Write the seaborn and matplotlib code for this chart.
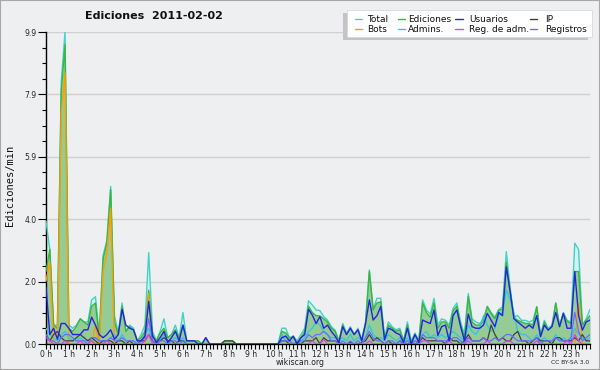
import numpy as np
import pandas as pd
import matplotlib
matplotlib.use("Agg")
import matplotlib.pyplot as plt
import seaborn as sns
from matplotlib.patches import Rectangle
from matplotlib.lines import Line2D
from matplotlib.ticker import MultipleLocator, FixedLocator

# ---------------- data (10-minute bins, 144 per day) ----------------
hour_labels = [f"{h} h" for h in range(24)]
ytick_values = [0, 1.98, 3.96, 5.94, 7.92, 9.9]
ytick_labels = ["0.0", "2.0", "4.0", "5.9", "7.9", "9.9"]

total = [
    3.9, 3.0, 0.6, 0.6, 8.3, 9.9,
    0.6, 0.5, 0.6, 0.8, 0.7, 0.7,
    1.4, 1.5, 0.3, 2.8, 3.3, 5.0,
    0.9, 0.35, 1.3, 0.4, 0.6, 0.5,
    0.1, 0.3, 0.6, 2.9, 0.4, 0.1,
    0.4, 0.8, 0.2, 0.3, 0.6, 0.2,
    1.0, 0.1, 0.1, 0.1, 0.1, 0.0,
    0.2, 0.0, 0.0, 0.0, 0.0, 0.1,
    0.1, 0.1, 0.0, 0.0, 0.0, 0.0,
    0.0, 0.0, 0.0, 0.0, 0.0, 0.0,
    0.0, 0.0, 0.5, 0.5, 0.2, 0.25,
    0.1, 0.3, 0.5, 1.37, 1.24, 1.08,
    1.06, 0.87, 0.76, 0.55, 0.44, 0.1,
    0.65, 0.35, 0.55, 0.3, 0.5, 0.15,
    0.7, 2.35, 1.1, 1.45, 1.45, 0.2,
    0.7, 0.55, 0.45, 0.5, 0.1, 0.7,
    0.1, 0.35, 0.1, 1.4, 1.08, 0.95,
    1.45, 0.6, 0.8, 0.75, 0.6, 1.13,
    1.3, 0.7, 0.3, 1.6, 0.8, 0.7,
    0.65, 0.8, 1.2, 1.0, 0.85, 1.1,
    1.18, 2.93, 1.8, 0.87, 0.9, 0.75,
    0.75, 0.7, 0.75, 1.18, 0.3, 0.75,
    0.5, 0.6, 1.3, 0.6, 1.0, 0.75,
    0.7, 3.2, 3.0, 0.6, 0.8, 1.1,
]
ediciones = [
    2.3, 3.0, 0.6, 0.5, 8.0, 9.5,
    0.5, 0.4, 0.55, 0.8, 0.7, 0.6,
    1.2, 1.3, 0.2, 2.7, 3.2, 4.9,
    0.7, 0.3, 1.2, 0.4, 0.55, 0.45,
    0.1, 0.2, 0.4, 1.7, 0.3, 0.1,
    0.35, 0.5, 0.2, 0.3, 0.45, 0.2,
    0.6, 0.1, 0.1, 0.1, 0.1, 0.0,
    0.2, 0.0, 0.0, 0.0, 0.0, 0.1,
    0.1, 0.1, 0.0, 0.0, 0.0, 0.0,
    0.0, 0.0, 0.0, 0.0, 0.0, 0.0,
    0.0, 0.0, 0.4, 0.35, 0.2, 0.2,
    0.05, 0.2, 0.4, 1.2, 1.0, 0.9,
    0.89, 0.8, 0.7, 0.5, 0.4, 0.1,
    0.6, 0.3, 0.5, 0.3, 0.45, 0.1,
    0.65, 2.3, 1.08, 1.3, 1.34, 0.15,
    0.6, 0.5, 0.4, 0.45, 0.1, 0.6,
    0.05, 0.3, 0.1, 1.3, 1.0, 0.85,
    1.3, 0.5, 0.7, 0.7, 0.5, 1.05,
    1.2, 0.6, 0.2, 1.5, 0.7, 0.6,
    0.6, 0.71, 1.18, 0.97, 0.8, 1.07,
    1.1, 2.6, 1.7, 0.85, 0.75, 0.7,
    0.65, 0.65, 0.6, 1.18, 0.25, 0.7,
    0.45, 0.55, 1.3, 0.55, 0.97, 0.72,
    0.65, 2.3, 2.3, 0.6, 0.75, 0.9,
]
usuarios = [
    1.8, 0.3, 0.5, 0.15, 0.65, 0.65,
    0.5, 0.3, 0.3, 0.3, 0.45, 0.45,
    0.85, 0.6, 0.3, 0.2, 0.3, 0.45,
    0.15, 0.3, 1.1, 0.6, 0.5, 0.45,
    0.1, 0.1, 0.25, 1.35, 0.25, 0.05,
    0.2, 0.4, 0.05, 0.2, 0.4, 0.1,
    0.6, 0.1, 0.1, 0.1, 0.0, 0.0,
    0.2, 0.0, 0.0, 0.0, 0.0, 0.0,
    0.0, 0.0, 0.0, 0.0, 0.0, 0.0,
    0.0, 0.0, 0.0, 0.0, 0.0, 0.0,
    0.0, 0.0, 0.2, 0.25, 0.1, 0.25,
    0.0, 0.2, 0.3, 1.1, 0.92, 0.65,
    0.87, 0.5, 0.6, 0.4, 0.25, 0.05,
    0.55, 0.3, 0.5, 0.3, 0.45, 0.1,
    0.65, 1.4, 0.76, 0.9, 1.19, 0.13,
    0.5, 0.45, 0.35, 0.3, 0.05, 0.5,
    0.0, 0.3, 0.05, 0.76, 0.7, 0.65,
    1.08, 0.27, 0.55, 0.6, 0.1, 0.9,
    1.08, 0.55, 0.1, 0.95, 0.55, 0.5,
    0.5, 0.6, 0.97, 0.76, 0.55, 1.0,
    0.9, 2.45, 1.66, 0.8, 0.7, 0.6,
    0.5, 0.6, 0.5, 0.9, 0.23, 0.6,
    0.44, 0.55, 1.0, 0.55, 0.97, 0.5,
    0.5, 2.3, 0.9, 0.44, 0.7, 0.76,
]
ip = [
    0.3, 0.1, 0.3, 0.4, 0.2, 0.1,
    0.1, 0.1, 0.2, 0.3, 0.2, 0.1,
    0.2, 0.1, 0.0, 0.1, 0.1, 0.1,
    0.0, 0.1, 0.1, 0.0, 0.1, 0.0,
    0.0, 0.1, 0.1, 0.3, 0.1, 0.0,
    0.1, 0.2, 0.1, 0.1, 0.0, 0.1,
    0.1, 0.0, 0.0, 0.0, 0.0, 0.0,
    0.0, 0.0, 0.0, 0.0, 0.0, 0.1,
    0.1, 0.1, 0.0, 0.0, 0.0, 0.0,
    0.0, 0.0, 0.0, 0.0, 0.0, 0.0,
    0.0, 0.0, 0.1, 0.1, 0.0, 0.0,
    0.05, 0.0, 0.1, 0.1, 0.1, 0.2,
    0.0, 0.2, 0.1, 0.1, 0.1, 0.05,
    0.0, 0.0, 0.05, 0.0, 0.0, 0.05,
    0.1, 0.3, 0.1, 0.2, 0.1, 0.0,
    0.1, 0.0, 0.0, 0.1, 0.0, 0.0,
    0.05, 0.0, 0.05, 0.2, 0.1, 0.1,
    0.1, 0.1, 0.1, 0.0, 0.2, 0.1,
    0.1, 0.0, 0.1, 0.3, 0.1, 0.1,
    0.1, 0.2, 0.1, 0.6, 0.3, 0.1,
    0.2, 0.1, 0.1, 0.3, 0.4, 0.1,
    0.1, 0.0, 0.1, 0.2, 0.1, 0.1,
    0.1, 0.0, 0.2, 0.2, 0.1, 0.1,
    0.1, 0.2, 0.1, 0.3, 0.1, 0.1,
]
bots = [
    2.0, 2.6, 0.0, 0.0, 7.3, 8.6,
    0.0, 0.0, 0.0, 0.0, 0.0, 0.0,
    0.0, 0.6, 0.0, 2.3, 2.9, 4.3,
    0.0, 0.0, 0.0, 0.0, 0.0, 0.0,
    0.0, 0.0, 0.0, 1.6, 0.0, 0.0,
] + [0.0] * 108 + [
    0.0, 0.0, 1.3, 0.0, 0.0, 0.0,
]
admins = [
    0.5, 0.3, 0.2, 0.1, 0.3, 0.4,
    0.2, 0.1, 0.1, 0.2, 0.1, 0.1,
    0.1, 0.2, 0.1, 0.1, 0.1, 0.2,
    0.3, 0.1, 0.3, 0.1, 0.1, 0.1,
    0.0, 0.1, 0.3, 0.5, 0.1, 0.0,
    0.1, 0.3, 0.1, 0.1, 0.2, 0.1,
    0.2, 0.0, 0.0, 0.0, 0.0, 0.0,
    0.0, 0.0, 0.0, 0.0, 0.0, 0.0,
    0.0, 0.0, 0.0, 0.0, 0.0, 0.0,
    0.0, 0.0, 0.0, 0.0, 0.0, 0.0,
    0.0, 0.0, 0.3, 0.1, 0.1, 0.0,
    0.0, 0.1, 0.2, 0.4, 0.5, 0.7,
    0.6, 0.4, 0.3, 0.2, 0.2, 0.1,
    0.2, 0.1, 0.3, 0.1, 0.2, 0.1,
    0.2, 0.6, 0.3, 0.2, 0.2, 0.1,
    0.3, 0.2, 0.1, 0.2, 0.0, 0.2,
    0.0, 0.1, 0.0, 0.3, 0.4, 0.2,
    0.3, 0.2, 0.3, 0.2, 0.3, 0.4,
    0.3, 0.2, 0.1, 0.6, 0.4, 0.3,
    0.5, 0.9, 0.6, 0.4, 0.5, 0.9,
    1.0, 1.7, 1.4, 1.0, 0.4, 0.3,
    0.3, 0.2, 0.1, 0.3, 0.1, 0.2,
    0.1, 0.1, 0.3, 0.1, 0.2, 0.1,
    0.1, 0.5, 0.3, 0.2, 0.1, 0.2,
]
reg_adm = [
    0.2, 0.1, 0.0, 0.0, 0.0, 0.1,
    0.0, 0.0, 0.0, 0.1, 0.0, 0.0,
    0.1, 0.0, 0.0, 0.0, 0.1, 0.0,
    0.0, 0.0, 0.0, 0.0, 0.0, 0.0,
    0.0, 0.0, 0.1, 0.3, 0.0, 0.0,
    0.0, 0.0, 0.0, 0.0, 0.0, 0.0,
    0.0, 0.0, 0.0, 0.0, 0.0, 0.0,
    0.0, 0.0, 0.0, 0.0, 0.0, 0.0,
    0.0, 0.0, 0.0, 0.0, 0.0, 0.0,
    0.0, 0.0, 0.0, 0.0, 0.0, 0.0,
    0.0, 0.0, 0.0, 0.0, 0.0, 0.0,
    0.0, 0.0, 0.0, 0.0, 0.1, 0.0,
    0.0, 0.15, 0.0, 0.0, 0.0, 0.0,
    0.0, 0.0, 0.0, 0.0, 0.0, 0.0,
    0.0, 0.1, 0.0, 0.0, 0.0, 0.0,
    0.0, 0.0, 0.0, 0.0, 0.0, 0.0,
    0.0, 0.0, 0.0, 0.1, 0.1, 0.0,
    0.0, 0.0, 0.0, 0.0, 0.1, 0.0,
    0.0, 0.0, 0.0, 0.1, 0.0, 0.0,
    0.0, 0.0, 0.1, 0.0, 0.0, 0.0,
    0.0, 0.1, 0.1, 0.0, 0.0, 0.0,
    0.0, 0.0, 0.0, 0.1, 0.0, 0.0,
    0.0, 0.0, 0.0, 0.0, 0.0, 0.1,
    0.0, 0.3, 0.1, 0.0, 0.0, 0.0,
]
registros = [
    0.3, 0.1, 0.1, 0.0, 0.2, 0.3,
    0.3, 0.2, 0.1, 0.1, 0.1, 0.0,
    0.2, 0.2, 0.1, 0.1, 0.1, 0.2,
    0.1, 0.1, 0.2, 0.1, 0.1, 0.1,
    0.0, 0.1, 0.2, 0.8, 0.1, 0.0,
    0.1, 0.1, 0.0, 0.1, 0.1, 0.0,
    0.1, 0.0, 0.0, 0.0, 0.0, 0.0,
    0.0, 0.0, 0.0, 0.0, 0.0, 0.0,
    0.0, 0.0, 0.0, 0.0, 0.0, 0.0,
    0.0, 0.0, 0.0, 0.0, 0.0, 0.0,
    0.0, 0.0, 0.1, 0.1, 0.1, 0.0,
    0.0, 0.1, 0.1, 0.3, 0.2, 0.3,
    0.3, 0.4, 0.3, 0.1, 0.1, 0.0,
    0.1, 0.0, 0.1, 0.0, 0.1, 0.0,
    0.2, 0.4, 0.2, 0.1, 0.1, 0.0,
    0.1, 0.1, 0.0, 0.1, 0.0, 0.1,
    0.0, 0.1, 0.05, 0.3, 0.2, 0.2,
    0.2, 0.1, 0.1, 0.1, 0.1, 0.2,
    0.2, 0.1, 0.0, 0.2, 0.1, 0.1,
    0.1, 0.2, 0.1, 0.1, 0.2, 0.1,
    0.2, 0.3, 0.3, 0.2, 0.1, 0.1,
    0.1, 0.1, 0.1, 0.2, 0.0, 0.1,
    0.1, 0.1, 0.2, 0.1, 0.1, 0.1,
    0.2, 1.0, 0.4, 0.1, 0.2, 0.3,
]

# ---------------- styling ----------------
BG = "#eeeff0"
C_TOTAL = "#3fd3c6"
C_TOTAL_FILL = "#d3f2ee"
C_ED = "#3db43d"
C_ED_FILL = "#95cb95"
C_USR = "#2424e0"
C_IP = "#404040"
C_BOTS = "#ff9c00"
C_ADM = "#2ec6e6"
C_REGADM = "#e03ef0"
C_REG = "#6b6bff"

sns.set_theme(style="white")
plt.rcParams["font.family"] = ["DejaVu Sans"]

W, H = 600, 370
fig = plt.figure(figsize=(W / 100, H / 100), dpi=100, facecolor=BG)

L, R, T, B = 46, 590, 32, 344
ax = fig.add_axes([L / W, 1 - B / H, (R - L) / W, (B - T) / H])
ax.set_facecolor(BG)

t = np.arange(len(total)) / 6.0
df = pd.DataFrame({
    "t": t, "Total": total, "Ediciones": ediciones, "Usuarios": usuarios,
    "IP": ip, "Bots": bots, "Admins.": admins, "Reg. de adm.": reg_adm,
    "Registros": registros,
})

# grid
for yv in ytick_values[1:]:
    ax.axhline(yv, color="#d0d0d0", lw=1.0, zorder=0)

ax.fill_between(df["t"], 0, df["Total"], color=C_TOTAL_FILL, lw=0, zorder=1)
ax.fill_between(df["t"], 0, df["Ediciones"], color=C_ED_FILL, lw=0, zorder=2)

series = [
    ("Total", C_TOTAL, 1.0),
    ("Ediciones", C_ED, 1.0),
    ("Bots", C_BOTS, 1.0),
    ("Admins.", C_ADM, 0.9),
    ("IP", C_IP, 0.9),
    ("Registros", C_REG, 0.9),
    ("Reg. de adm.", C_REGADM, 0.9),
    ("Usuarios", C_USR, 1.0),
]
for i, (name, col, lw) in enumerate(series):
    sns.lineplot(data=df, x="t", y=name, ax=ax, color=col, lw=lw,
                 estimator=None, zorder=3 + i)

ax.set_xlim(0, t[-1])
ax.set_ylim(0, 9.9)
ax.set_xlabel("")
ax.set_ylabel("")

ax.xaxis.set_major_locator(FixedLocator(list(range(24))))
ax.set_xticklabels(hour_labels, fontsize=5.5)
ax.xaxis.set_minor_locator(MultipleLocator(1 / 6))
ax.tick_params(axis="x", which="both", direction="out", length=3.5, width=0.8,
               color="black", pad=0.5, bottom=True)

ax.yaxis.set_major_locator(FixedLocator(ytick_values))
ax.set_yticklabels(ytick_labels, fontsize=5.5)
ax.yaxis.set_minor_locator(FixedLocator(list(np.arange(0, 9.9, 0.495))))
ax.tick_params(axis="y", which="major", direction="out", length=6, width=0.8,
               color="black", pad=1, left=True)
ax.tick_params(axis="y", which="minor", direction="out", length=3, width=0.8,
               color="black", left=True)

for s in ["top", "right"]:
    ax.spines[s].set_visible(False)
for s in ["left", "bottom"]:
    ax.spines[s].set_color("black")
    ax.spines[s].set_linewidth(1.0)

# ---------------- texts ----------------
fig.text(85 / W, 1 - 16 / H, "Ediciones  2011-02-02", fontsize=8,
         fontweight="bold", ha="left", va="center", color="#111111")
fig.text(10 / W, 1 - 185 / H, "Ediciones/min", fontsize=7.5, rotation=90,
         ha="center", va="center", family=["DejaVu Sans Mono"], color="#111111")
fig.text(300 / W, 1 - 362.5 / H, "wikiscan.org", fontsize=5.6, ha="center",
         va="center", color="#222222")
fig.text(589 / W, 1 - 362 / H, "CC BY-SA 3.0", fontsize=4.3, ha="right",
         va="center", color="#222222")

# ---------------- legend ----------------
fig.add_artist(Rectangle((343 / W, 1 - 40 / H), 245 / W, 27 / H,
                         transform=fig.transFigure, facecolor="#c4c4c4",
                         edgecolor="none", zorder=10))
fig.add_artist(Rectangle((347 / W, 1 - 37 / H), 245 / W, 27 / H,
                         transform=fig.transFigure, facecolor="white",
                         edgecolor="#d8d8d8", lw=0.6, zorder=11))
legend_rows = [
    [("Total", C_TOTAL), ("Ediciones", C_ED), ("Usuarios", C_USR), ("IP", C_IP)],
    [("Bots", C_BOTS), ("Admins.", C_ADM), ("Reg. de adm.", C_REGADM), ("Registros", C_REG)],
]
col_line_x = [(355, 362), (398, 405), (455, 463), (530, 537)]
col_text_x = [367, 408, 469, 545]
row_y = [19, 29]
for r, row in enumerate(legend_rows):
    for c, (name, col) in enumerate(row):
        x0, x1 = col_line_x[c]
        yy = 1 - row_y[r] / H
        fig.add_artist(Line2D([x0 / W, x1 / W], [yy, yy], transform=fig.transFigure,
                              color=col, lw=1.0, zorder=12))
        fig.text(col_text_x[c] / W, yy, name, fontsize=6.5, ha="left",
                 va="center", color="#111111", zorder=12)

# outer frame
fig.add_artist(Rectangle((0, 0), 1, 1, transform=fig.transFigure, fill=False,
                         edgecolor="#a8a8a8", lw=1.5, zorder=20))

fig.savefig("out.png", dpi=100, facecolor=BG)
